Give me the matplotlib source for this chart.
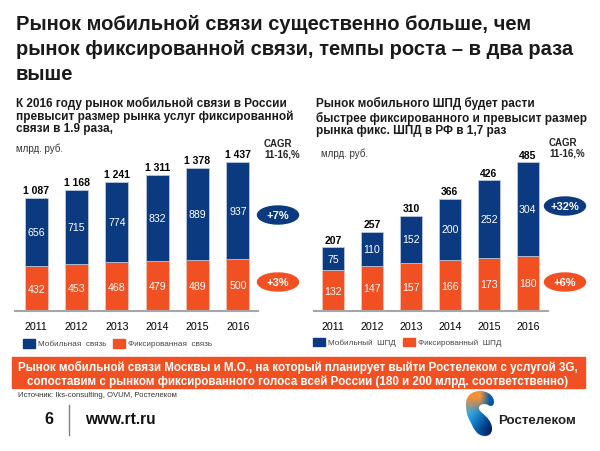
import matplotlib
matplotlib.use('Agg')
import matplotlib.pyplot as plt
import numpy as np
from matplotlib.patches import Ellipse, PathPatch, Rectangle
from matplotlib.path import Path

years = ['2011', '2012', '2013', '2014', '2015', '2016']

mobile_voice = [656, 715, 774, 832, 889, 937]
fixed_voice = [432, 453, 468, 479, 489, 500]
total_voice = ['1 087', '1 168', '1 241', '1 311', '1 378', '1 437']

mobile_bb = [75, 110, 152, 200, 252, 304]
fixed_bb = [132, 147, 157, 166, 173, 180]
total_bb = ['207', '257', '310', '366', '426', '485']

BLUE = '#0b3a80'
ORANGE = '#f15122'
W, H = 600, 452

plt.rcParams['font.family'] = ['Liberation Sans', 'DejaVu Sans']

fig = plt.figure(figsize=(6, 4.52), dpi=100)

# фоновая ось в пикселях картинки, для текста и плашек
bg = fig.add_axes([0, 0, 1, 1])
bg.axis('off')


def pixel_axes(x0, y0, x1, y1):
    ax = fig.add_axes([x0 / W, 1 - y1 / H, (x1 - x0) / W, (y1 - y0) / H])
    ax.patch.set_alpha(0)
    for name in ['top', 'left', 'right']:
        ax.spines[name].set_visible(False)
    ax.spines['bottom'].set_color('#a6a6a6')
    ax.spines['bottom'].set_linewidth(1.5)
    ax.set_yticks([])
    ax.tick_params(axis='x', length=0, pad=7.5, labelsize=7.7)
    return ax


def draw_bars(ax, mobile, fixed, totals, width):
    x = np.arange(len(years))
    ax.bar(x, fixed, width, color=ORANGE, edgecolor='#fbc9b8', linewidth=0.5)
    ax.bar(x, mobile, width, bottom=fixed, color=BLUE, edgecolor='#c3cfe2', linewidth=0.5)
    for i in x:
        ax.text(i, fixed[i] / 2, str(fixed[i]), color='white', ha='center', va='center', fontsize=7.6)
        ax.text(i, fixed[i] + mobile[i] / 2, str(mobile[i]), color='white', ha='center', va='center', fontsize=7.6)
        ax.annotate(totals[i], (i, fixed[i] + mobile[i]), xytext=(0, 2), textcoords='offset points',
                    color='black', ha='center', va='bottom', fontsize=7.5, fontweight='bold')
    ax.set_xticks(x)
    ax.set_xticklabels(years)


# --- левый график ---
ax1 = pixel_axes(15, 150, 258, 312)
ax1.set_xlim(-0.525, 5.5)
ax1.set_ylim(0, 1437 * 162 / 149)
draw_bars(ax1, mobile_voice, fixed_voice, total_voice, 0.57)

# --- правый график ---
ax2 = pixel_axes(314, 150, 548, 312)
ax2.set_xlim(-0.49, 5.52)
ax2.set_ylim(0, 485 * 162 / 149)
draw_bars(ax2, mobile_bb, fixed_bb, total_bb, 0.565)

# заголовок
for y, line in zip([25, 49.5, 74], ['Рынок мобильной связи существенно больше, чем',
                                    'рынок фиксированной связи, темпы роста – в два раза',
                                    'выше']):
    bg.text(16, y, line, fontsize=14.5, fontweight='bold', va='center', color='#1a1a1a')

# подзаголовки
for y, line in zip([103.5, 116.5, 129], ['К 2016 году рынок мобильной связи в России',
                                         'превысит размер рынка услуг фиксированной',
                                         'связи в 1.9 раза,']):
    bg.text(16, y, line, fontsize=8.45, fontweight='bold', va='center', color='#1a1a1a')
for y, line in zip([103, 118, 131.5], ['Рынок мобильного ШПД будет расти',
                                       'быстрее фиксированного и превысит размер',
                                       'рынка фикс. ШПД в РФ в 1,7 раз']):
    bg.text(316, y, line, fontsize=8.45, fontweight='bold', va='center', color='#1a1a1a')

bg.text(16, 149, 'млрд. руб.', fontsize=7, va='center', color='#333333')
bg.text(321, 154, 'млрд. руб.', fontsize=7, va='center', color='#333333')
bg.text(264, 144, 'CAGR', fontsize=7, fontweight='bold', va='center', color='#222222')
bg.text(264, 155, '11-16,%', fontsize=7, fontweight='bold', va='center', color='#222222')
bg.text(549, 143, 'CAGR', fontsize=7, fontweight='bold', va='center', color='#222222')
bg.text(549, 154, '11-16,%', fontsize=7, fontweight='bold', va='center', color='#222222')

# овалы CAGR
for cx, cy, color, label in [(278, 216, BLUE, '+7%'), (278, 283, ORANGE, '+3%'),
                             (565, 207, BLUE, '+32%'), (565, 283, ORANGE, '+6%')]:
    bg.add_patch(Ellipse((cx, cy), 41, 18, color=color))
    bg.text(cx, cy, label, color='white', fontsize=8, fontweight='bold', ha='center', va='center')

# легенды
for x, y, color, label in [(23, 344.5, BLUE, 'Мобильная  связь'), (113, 344.5, ORANGE, 'Фиксированная  связь'),
                           (313, 343, BLUE, 'Мобильный  ШПД'), (403, 343, ORANGE, 'Фиксированный  ШПД')]:
    bg.add_patch(Rectangle((x, y - 4.5), 12, 8.5, color=color))
    bg.text(x + 15, y, label, fontsize=5.9, va='center', color='#444444')

# нижняя плашка
bg.add_patch(Rectangle((12, 358), 573, 31, color=ORANGE))
bg.text(298, 367, 'Рынок мобильной связи Москвы и М.О., на который планирует выйти Ростелеком с услугой 3G,',
        color='white', fontsize=8.42, fontweight='bold', ha='center', va='center')
bg.text(298, 381.5, 'сопоставим с рынком фиксированного голоса всей России (180 и 200 млрд. соответственно)',
        color='white', fontsize=8.42, fontweight='bold', ha='center', va='center')

bg.text(18, 395.5, 'Источник: Iks-consulting, OVUM, Ростелеком', fontsize=5.55, va='center', color='#333333')

# подвал
bg.text(49, 420, '6', fontsize=11.5, fontweight='bold', ha='center', va='center', color='#111111')
bg.plot([69, 69], [405.5, 436], color='#808080', linewidth=1)
bg.text(85, 420, 'www.rt.ru', fontsize=11.2, fontweight='bold', va='center', color='#111111')

# логотип: контур с заливкой-градиентом
logo_pts = [(466, 405),
            (466, 396), (473, 392), (480, 392),
            (488, 392), (494, 397), (494, 403),
            (494, 407), (491, 408), (488, 406),
            (485, 404), (479, 405), (479, 409),
            (479, 413), (485, 415), (489, 421),
            (494, 428), (493, 437), (485, 437),
            (476, 437), (473, 428), (470, 422),
            (467, 417), (466, 412), (466, 405)]
logo = Path(logo_pts, [Path.MOVETO] + [Path.CURVE4] * 24)
patch = PathPatch(logo, facecolor='none', edgecolor='none')
bg.add_patch(patch)
logo_colors = np.array([[[0.96, 0.55, 0.20], [0.97, 0.58, 0.22], [0.02, 0.36, 0.67]],
                        [[0.20, 0.66, 0.88], [0.10, 0.50, 0.78], [0.02, 0.30, 0.60]],
                        [[0.05, 0.50, 0.80], [0.02, 0.30, 0.60], [0.02, 0.14, 0.40]]])
img = bg.imshow(logo_colors, extent=(465, 495, 438, 391), aspect='auto', interpolation='bilinear', zorder=2)
img.set_clip_path(patch)
bg.text(498, 421, 'Ростелеком', fontsize=9.6, fontweight='bold', va='center', color='#222222')

bg.set_xlim(0, W)
bg.set_ylim(H, 0)

fig.savefig('out.png', dpi=100)
